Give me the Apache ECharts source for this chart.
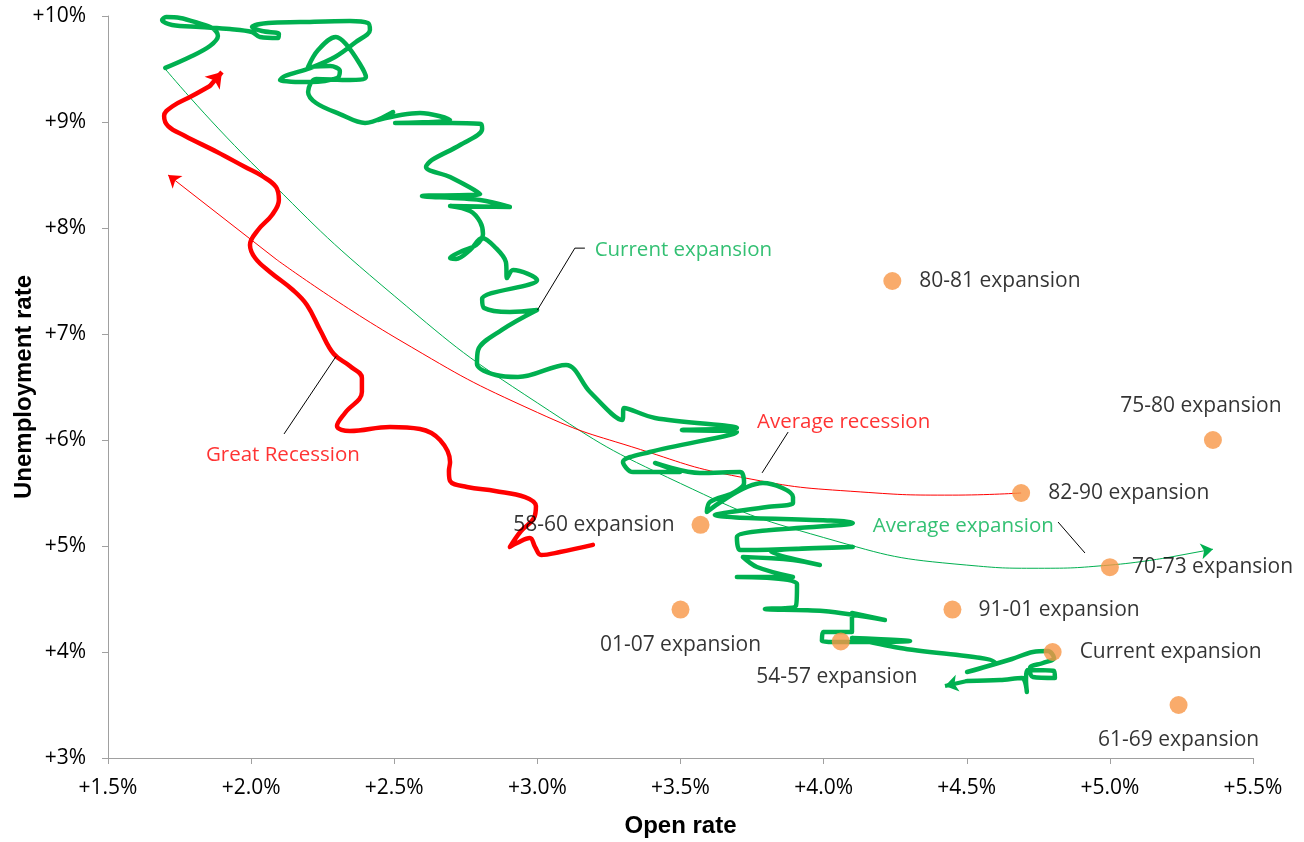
<!DOCTYPE html>
<html>
<head>
<meta charset="utf-8">
<script src="https://cdn.jsdelivr.net/npm/echarts@6/dist/echarts.min.js"></script>
<style>
html,body{margin:0;padding:0;background:#fff;overflow:hidden;}
#chart{width:1304px;height:842px;}
</style>
</head>
<body>
<div id="chart"></div>
<script>
// ---------------- DATA ----------------
const xTicks = [1.5, 2.0, 2.5, 3.0, 3.5, 4.0, 4.5, 5.0, 5.5];
const yTicks = [3, 4, 5, 6, 7, 8, 9, 10];

// expansion end points: [open rate, unemployment rate]
const expansionNames = ['80-81 expansion','75-80 expansion','82-90 expansion','58-60 expansion','70-73 expansion',
  '01-07 expansion','91-01 expansion','54-57 expansion','Current expansion','61-69 expansion'];
const expansionOpen = [4.24, 5.36, 4.69, 3.57, 5.00, 3.50, 4.45, 4.06, 4.80, 5.24];
const expansionUnemp = [7.5, 6.0, 5.5, 5.2, 4.8, 4.4, 4.4, 4.1, 4.0, 3.5];

// current expansion path (open rate, unemployment rate)
const currentOpen = [1.70,1.786,1.856,1.884,1.863,1.814,1.752,1.703,1.689,1.724,1.821,1.926,2.003,2.031,2.094,2.097,2.038,2.003,2.059,2.171,
  2.345,2.408,2.415,2.366,2.293,2.206,2.118,2.101,2.206,2.300,2.310,2.276,2.199,2.234,2.296,2.331,2.380,2.401,2.345,2.227,
  2.199,2.227,2.310,2.398,2.496,2.443,2.590,2.695,2.503,2.702,2.803,2.807,2.730,2.632,2.611,2.695,2.800,2.597,2.800,2.904,
  2.695,2.765,2.800,2.810,2.786,2.737,2.695,2.716,2.765,2.807,2.855,2.890,2.894,2.915,2.999,2.807,2.814,2.904,2.999,2.876,
  2.793,2.789,2.855,2.932,3.100,3.184,3.296,3.303,3.411,3.697,3.505,3.697,3.393,3.299,3.334,3.498,3.411,3.568,3.708,3.722,
  3.683,3.603,3.592,3.788,3.893,3.893,3.802,3.620,4.102,3.697,3.708,4.102,3.817,3.987,3.893,3.718,3.767,3.893,3.697,3.907,
  3.903,3.795,3.998,4.214,4.099,4.099,3.998,3.994,4.057,4.302,4.099,4.267,4.599,4.501,4.658,4.731,4.784,4.805,4.766,4.721,
  4.731,4.808,4.805,4.714,4.707,4.710,4.693,4.616,4.501,4.424];
const currentUnemp = [9.51,9.613,9.717,9.811,9.887,9.934,9.981,9.99,9.962,9.915,9.896,9.877,9.849,9.802,9.792,9.830,9.858,9.896,9.934,9.943,
  9.953,9.934,9.868,9.755,9.613,9.509,9.434,9.396,9.377,9.415,9.481,9.528,9.519,9.679,9.802,9.736,9.547,9.425,9.396,9.406,
  9.283,9.179,9.075,8.991,9.094,9.019,9.085,9.019,8.991,8.991,8.981,8.934,8.783,8.642,8.575,8.481,8.321,8.302,8.264,8.198,
  8.208,8.160,8.057,7.943,7.840,7.783,7.717,7.708,7.792,7.906,7.811,7.679,7.528,7.604,7.509,7.330,7.245,7.208,7.226,7.038,
  6.849,6.717,6.613,6.594,6.708,6.453,6.189,6.302,6.208,6.113,6.094,6.075,5.887,5.792,5.698,5.698,5.783,5.689,5.698,5.594,
  5.500,5.415,5.321,5.594,5.462,5.406,5.368,5.292,5.217,5.085,4.962,4.991,4.943,4.821,4.868,4.896,4.802,4.708,4.708,4.642,
  4.434,4.406,4.387,4.302,4.368,4.189,4.189,4.104,4.094,4.104,4.132,4.038,3.896,3.811,3.934,4.000,4.009,3.943,3.896,3.849,
  3.764,3.755,3.821,3.830,3.736,3.623,3.755,3.736,3.726,3.679];

// Great Recession path
const greatRecOpen = [3.194,3.079,3.013,2.992,2.974,2.929,2.904,2.943,2.988,2.995,2.957,2.852,2.754,2.695,2.691,2.695,2.660,2.590,2.485,2.345,
  2.300,2.328,2.387,2.387,2.345,2.289,2.241,2.195,2.146,2.066,2.014,1.996,2.024,2.073,2.097,2.087,2.038,1.979,1.881,1.769,
  1.710,1.696,1.727,1.793,1.856,1.898];
const greatRecUnemp = [5.011,4.943,4.915,4.991,5.075,5.028,4.991,5.142,5.264,5.377,5.462,5.519,5.557,5.613,5.708,5.792,6.000,6.104,6.123,6.085,
  6.132,6.255,6.453,6.585,6.698,6.811,7.038,7.274,7.415,7.585,7.717,7.840,7.981,8.123,8.264,8.387,8.491,8.575,8.717,8.868,
  8.962,9.057,9.151,9.245,9.340,9.472];

// Average expansion curve
const avgExpOpen = [1.70, 2.00, 2.50, 3.00, 3.50, 4.00, 4.50, 4.75, 5.00, 5.20, 5.36];
const avgExpUnemp = [9.50, 8.62, 7.36, 6.35, 5.59, 5.08, 4.82, 4.79, 4.82, 4.89, 4.97];

// Average recession curve (from start to arrow)
const avgRecOpen = [4.69, 4.45, 4.13, 3.71, 3.36, 3.00, 2.52, 2.09, 1.71];
const avgRecUnemp = [5.50, 5.48, 5.51, 5.65, 5.91, 6.26, 6.94, 7.70, 8.50];

// annotations
const annoText = ['Current expansion', 'Average recession', 'Average expansion', 'Great Recession'];
const annoOpen = [3.20, 3.767, 4.172, 1.842];
const annoUnemp = [7.79, 6.17, 5.19, 5.86];
const leaderOpen = [[3.0, 3.131, 3.166], [3.785, 3.876], [4.819, 4.913], [2.297, 2.115]];
const leaderUnemp = [[7.226, 7.81, 7.81], [5.69, 6.075], [5.226, 4.934], [6.79, 6.057]];

// ---------------- BUILD ----------------
const GREEN = '#00B050', RED = '#FF0000', ORANGE = '#F79646';
const FONT = 'Open Sans';
const zip = (a, b) => a.map((v, i) => [v, b[i]]);

const labelPlacement = [
  {position:'right', distance:18},
  {position:'top', distance:14, offset:[-12,0]},
  {position:'right', distance:18},
  {position:'left', distance:17},
  {position:'right', distance:13},
  {position:'bottom', distance:16},
  {position:'right', distance:17},
  {position:'bottom', distance:16, offset:[-4,0]},
  {position:'right', distance:18},
  {position:'bottom', distance:16}
];
const annoColors = [GREEN, RED, GREEN, RED];

const currentPts = zip(currentOpen, currentUnemp);
const greatPts = zip(greatRecOpen, greatRecUnemp);
const avgExpPts = zip(avgExpOpen, avgExpUnemp);
const avgRecPts = zip(avgRecOpen, avgRecUnemp);

function arrowSeries(pts, color, width, size) {
  const n = pts.length;
  return {
    type: 'lines', coordinateSystem: 'cartesian2d', silent: true, z: 5,
    symbol: ['none', 'arrow'], symbolSize: size,
    lineStyle: {color: color, width: width, opacity: 1},
    data: [{coords: [pts[n - 2], pts[n - 1]]}]
  };
}

const series = [];
series.push({type:'line', data: avgExpPts.slice(0, -1), smooth: true, showSymbol:false, silent:true,
  lineStyle:{color:GREEN, width:1}, z:2});
series.push(arrowSeries(avgExpPts, GREEN, 1, 12));
series.push({type:'line', data: avgRecPts.slice(0, -1), smooth: true, showSymbol:false, silent:true,
  lineStyle:{color:RED, width:1}, z:2});
series.push(arrowSeries(avgRecPts, RED, 1, 12));
series.push({type:'line', data: greatPts.slice(0, -1), smooth: 0.4, showSymbol:false, silent:true,
  lineStyle:{color:RED, width:4.5, cap:'round', join:'round'}, z:3});
series.push(arrowSeries(greatPts, RED, 4.5, 15));
series.push({type:'line', data: currentPts.slice(0, -1), smooth: 0.35, showSymbol:false, silent:true,
  lineStyle:{color:GREEN, width:4.5, cap:'round', join:'round'}, z:3});
series.push(arrowSeries(currentPts, GREEN, 4, 13));
leaderOpen.forEach((xs, i) => {
  series.push({type:'line', data: zip(xs, leaderUnemp[i]), showSymbol:false, silent:true,
    lineStyle:{color:'#000', width:1}, z:4});
});
series.push({type:'scatter', symbolSize:0, silent:true, z:6,
  data: annoText.map((t, i) => ({value:[annoOpen[i], annoUnemp[i]], name:t,
    label:{show:true, position:'right', distance:0, formatter:t, color:annoColors[i],
      fontFamily:FONT, fontSize:20.5}}))
});
series.push({type:'scatter', symbolSize:18, z:7, silent:true,
  itemStyle:{color:ORANGE},
  data: expansionNames.map((n, i) => ({value:[expansionOpen[i], expansionUnemp[i]], name:n,
    label: Object.assign({show:true, formatter:n, color:'#000', fontFamily:FONT, fontSize:21}, labelPlacement[i])}))
});

const chart = echarts.init(document.getElementById('chart'));
chart.setOption({
  animation: false,
  backgroundColor: '#fff',
  grid: {left:108, right:51, top:16, bottom:84, containLabel:false, outerBoundsMode:'none'},
  xAxis: {
    type:'value', min:xTicks[0], max:xTicks[xTicks.length-1], interval:0.5,
    name:'Open rate', nameLocation:'middle', nameGap:56, nameMoveOverlap:false,
    nameTextStyle:{fontFamily:'Liberation Sans', fontWeight:'bold', fontSize:24, color:'#000'},
    axisLine:{show:true, lineStyle:{color:'#A0A0A0', width:1}},
    axisTick:{show:true, length:6, inside:false, lineStyle:{color:'#A0A0A0'}},
    splitLine:{show:false},
    axisLabel:{formatter: v => '+' + v.toFixed(1) + '%', margin:20, color:'#000', fontFamily:FONT, fontSize:21}
  },
  yAxis: {
    type:'value', min:yTicks[0], max:yTicks[yTicks.length-1], interval:1,
    name:'Unemployment rate', nameLocation:'middle', nameGap:72, nameRotate:90, nameMoveOverlap:false,
    nameTextStyle:{fontFamily:'Liberation Sans', fontWeight:'bold', fontSize:24, color:'#000'},
    axisLine:{show:true, lineStyle:{color:'#A0A0A0', width:1}},
    axisTick:{show:true, length:6, inside:false, lineStyle:{color:'#A0A0A0'}},
    splitLine:{show:false},
    axisLabel:{formatter: v => '+' + v + '%', margin:22, color:'#000', fontFamily:FONT, fontSize:21}
  },
  series: series
});
</script>
</body>
</html>
